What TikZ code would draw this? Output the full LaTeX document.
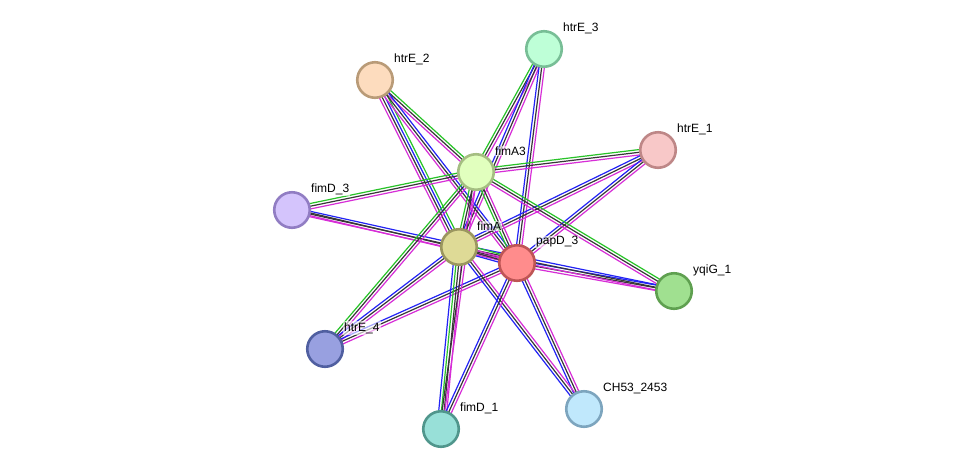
\documentclass[tikz,border=0pt]{standalone}
\usepackage{fontspec}
\setmainfont{Liberation Sans}
\usetikzlibrary{calc,backgrounds}
\definecolor{mag}{RGB}{215,45,215}
\definecolor{blk}{RGB}{55,55,55}
\definecolor{grn}{RGB}{40,195,40}
\definecolor{blu}{RGB}{35,35,245}
\tikzset{
  prot/.style={circle, minimum size=35.5pt, inner sep=0pt, line width=2.6pt},
  lab/.style={anchor=west, font=\fontsize{12}{14}\selectfont, fill=white, fill opacity=0.6, text opacity=1, inner sep=1pt},
  ln/.style={line width=1.2pt}
}
\newcommand\bundle[4]{%
  \foreach \cc [count=\ii] in {#4}{%
    \pgfmathsetmacro\off{(\ii-(#3+1)/2)*2.7}%
    \draw[ln,\cc] ($(#1)!\off pt!90:(#2)$) -- ($(#2)!\off pt!-90:(#1)$);
  }}
\begin{document}
\begin{tikzpicture}[x=1pt,y=-1pt]
\useasboundingbox (0,0) rectangle (975,475);
% proteins
\node[prot, fill={rgb,255:red,190;green,255;blue,215}, draw={rgb,255:red,120;green,190;blue,150}] (h3) at (544,49) {};
\node[prot, fill={rgb,255:red,253;green,220;blue,190}, draw={rgb,255:red,185;green,155;blue,120}] (h2) at (375,80) {};
\node[prot, fill={rgb,255:red,248;green,200;blue,200}, draw={rgb,255:red,190;green,135;blue,135}] (h1) at (658,150) {};
\node[prot, fill={rgb,255:red,225;green,255;blue,190}, draw={rgb,255:red,165;green,190;blue,130}] (fa3) at (476,172) {};
\node[prot, fill={rgb,255:red,212;green,196;blue,252}, draw={rgb,255:red,145;green,125;blue,195}] (fd3) at (292,210) {};
\node[prot, fill={rgb,255:red,222;green,218;blue,150}, draw={rgb,255:red,155;green,150;blue,95}] (fa) at (459,247) {};
\node[prot, fill={rgb,255:red,255;green,140;blue,140}, draw={rgb,255:red,190;green,85;blue,85}] (pd) at (517,263) {};
\node[prot, fill={rgb,255:red,160;green,224;blue,144}, draw={rgb,255:red,95;green,160;blue,80}] (yq) at (674,291) {};
\node[prot, fill={rgb,255:red,152;green,160;blue,224}, draw={rgb,255:red,80;green,95;blue,160}] (h4) at (325,349) {};
\node[prot, fill={rgb,255:red,192;green,232;blue,252}, draw={rgb,255:red,125;green,165;blue,190}] (ch) at (584,409) {};
\node[prot, fill={rgb,255:red,152;green,224;blue,216}, draw={rgb,255:red,80;green,150;blue,140}] (fd1) at (441,429) {};
% edges
\begin{pgfonlayer}{background}
\fill[white] (0,0) rectangle (975,475);
\bundle{h3}{fa3}{3}{grn,blk,mag}
\bundle{h3}{fa}{3}{blu,blk,mag}
\bundle{h3}{pd}{3}{blu,blk,mag}
\bundle{h2}{fa3}{3}{mag,blk,grn}
\bundle{h2}{fa}{4}{mag,blk,blu,grn}
\bundle{h2}{pd}{3}{mag,blk,blu}
\bundle{h1}{fa3}{3}{grn,blk,mag}
\bundle{h1}{fa}{3}{blu,blk,mag}
\bundle{h1}{pd}{3}{blu,blk,mag}
\bundle{fd3}{fa3}{3}{mag,blk,grn}
\bundle{fd3}{fa}{3}{mag,blk,blu}
\bundle{fd3}{pd}{2}{mag,blk}
\bundle{yq}{pd}{3}{blu,blk,mag}
\bundle{yq}{fa}{3}{blu,blk,mag}
\bundle{yq}{fa3}{3}{grn,blk,mag}
\bundle{h4}{fa3}{3}{mag,blk,grn}
\bundle{h4}{fa}{3}{mag,blk,blu}
\bundle{h4}{pd}{3}{mag,blk,blu}
\bundle{ch}{pd}{3}{mag,blk,blu}
\bundle{ch}{fa}{3}{mag,blk,blu}
\bundle{fd1}{fa}{4}{mag,blk,grn,blu}
\bundle{fd1}{fa3}{2}{mag,blk}
\bundle{fd1}{pd}{3}{mag,blk,blu}
\bundle{fa3}{fa}{3}{grn,blk,mag}
\bundle{fa3}{pd}{3}{grn,blk,mag}
\bundle{fa}{pd}{4}{blu,blk,mag,grn}
\end{pgfonlayer}
% labels
\node[lab] (lh3) at ($(h3)+(18,-21)$) {htrE\_3};
\node[lab] (lh2) at ($(h2)+(18,-21)$) {htrE\_2};
\node[lab] (lh1) at ($(h1)+(18,-21)$) {htrE\_1};
\node[lab] (lfa3) at ($(fa3)+(18,-21)$) {fimA3};
\node[lab] (lfd3) at ($(fd3)+(18,-21)$) {fimD\_3};
\node[lab] (lfa) at ($(fa)+(17,-21)$) {fimA};
\node[lab] (lpd) at ($(pd)+(18,-21)$) {papD\_3};
\node[lab] (lyq) at ($(yq)+(18,-21)$) {yqiG\_1};
\node[lab] (lh4) at ($(h4)+(18,-21)$) {htrE\_4};
\node[lab] (lch) at ($(ch)+(18,-21)$) {CH53\_2453};
\node[lab] (lfd1) at ($(fd1)+(18,-21)$) {fimD\_1};
\end{tikzpicture}
\end{document}
